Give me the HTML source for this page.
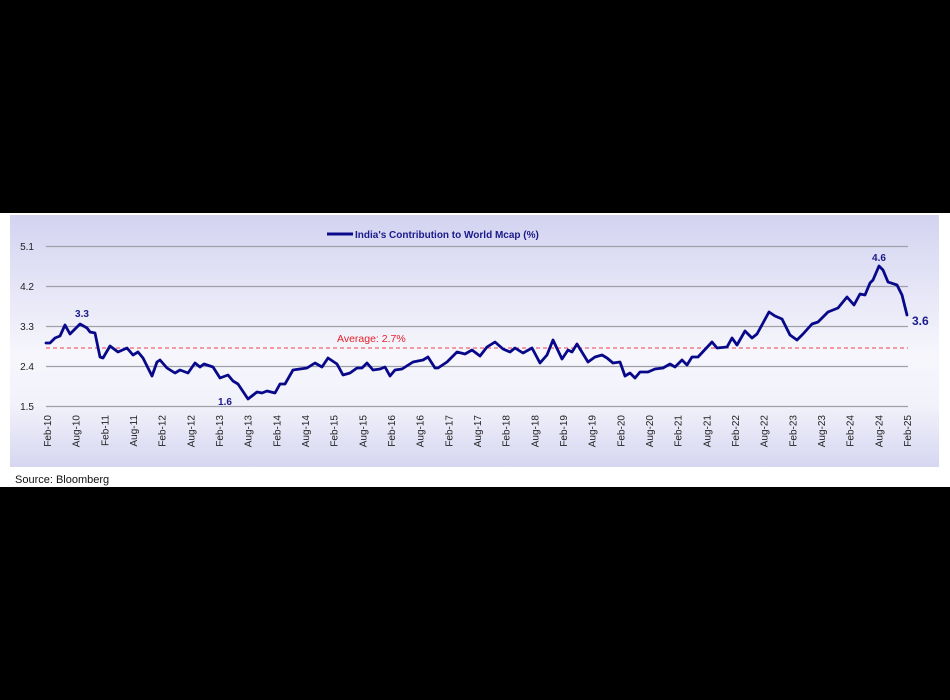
<!DOCTYPE html>
<html><head><meta charset="utf-8"><style>
html,body{margin:0;padding:0;background:#000;width:950px;height:700px;overflow:hidden}
svg{display:block}
text{font-family:"Liberation Sans",sans-serif}
</style></head><body>
<svg width="950" height="700" viewBox="0 0 950 700">
<defs>
<linearGradient id="bg" x1="0" y1="0" x2="0" y2="1">
<stop offset="0" stop-color="#d3d3f1"/>
<stop offset="0.55" stop-color="#f6f6fc"/>
<stop offset="0.75" stop-color="#f2f2fb"/>
<stop offset="1" stop-color="#d6d6f1"/>
</linearGradient>
</defs>
<rect x="0" y="213" width="950" height="274" fill="#fff"/>
<rect x="10" y="215" width="929" height="252" fill="url(#bg)"/>
<g stroke="#a0a0a8" stroke-width="1.2">
<line x1="46" y1="246.5" x2="908" y2="246.5"/>
<line x1="46" y1="286.5" x2="908" y2="286.5"/>
<line x1="46" y1="326.5" x2="908" y2="326.5"/>
<line x1="46" y1="366.5" x2="908" y2="366.5"/>
<line x1="46" y1="406.5" x2="908" y2="406.5"/>
</g>
<g font-size="10" fill="#222" text-anchor="end">
<text x="34" y="250">5.1</text><text x="34" y="290">4.2</text><text x="34" y="330">3.3</text><text x="34" y="370">2.4</text><text x="34" y="410">1.5</text>
</g>
<line x1="46" y1="348" x2="908" y2="348" stroke="#f04050" stroke-width="1" stroke-dasharray="4,3"/>
<text x="337" y="342" font-size="10.5" font-weight="500" fill="#e8202a">Average: 2.7%</text>
<line x1="327" y1="234" x2="353" y2="234" stroke="#0a0a8c" stroke-width="3"/>
<text x="355" y="238" font-size="10" font-weight="bold" fill="#1a1a8c">India's Contribution to World Mcap (%)</text>
<polyline fill="none" stroke="#08088a" stroke-width="2.8" stroke-linejoin="round" stroke-linecap="round" points="
46,343 50,343 55,338 60,336 65,325 70,334 80,324 87,328 90,332 95,333 100,357 103,358 110,346 118,352 127,348 133,355 138,352 143,358 152,376 157,362 160,360 167,368 175,373 180,370 188,373 195,363 200,367 204,364 213,367 220,378 228,375 233,381 238,384 248,399 257,392 262,393 267,391 275,393 280,384 285,384 293,370 300,369 307,368 315,363 322,367 328,358 337,364 343,375 350,373 357,368 362,368 367,363 373,370 380,369 385,367 390,376 395,370 402,369 413,362 423,360 428,357 435,368 438,368 447,362 457,352 465,354 472,350 480,356 487,347 495,342 503,349 510,352 515,348 523,353 532,348 540,363 547,355 553,340 562,359 568,350 572,352 577,344 588,362 595,357 602,355 607,358 613,363 620,362 625,376 630,373 635,378 640,372 648,372 655,369 663,368 670,364 675,367 682,360 687,365 692,357 698,357 712,342 717,348 727,347 732,338 737,345 745,331 752,338 757,334 769,312 775,316 782,319 790,335 797,340 803,334 812,324 818,322 828,312 838,308 847,297 854,305 860,294 865,295 870,283 873,280 879,266 883,270 888,282 897,285 902,295 907,315"/>
<g font-size="10" font-weight="bold" fill="#1a1a8c" text-anchor="middle">
<text x="82" y="317">3.3</text><text x="225" y="405">1.6</text><text x="879" y="261">4.6</text>
</g>
<text x="912" y="325" font-size="12" font-weight="bold" fill="#1a1a8c">3.6</text>
<g font-size="10" fill="#222" text-anchor="end">
<text transform="translate(51,415) rotate(-90)">Feb-10</text>
<text transform="translate(79.7,415) rotate(-90)">Aug-10</text>
<text transform="translate(108.3,415) rotate(-90)">Feb-11</text>
<text transform="translate(137,415) rotate(-90)">Aug-11</text>
<text transform="translate(165.7,415) rotate(-90)">Feb-12</text>
<text transform="translate(194.3,415) rotate(-90)">Aug-12</text>
<text transform="translate(223,415) rotate(-90)">Feb-13</text>
<text transform="translate(251.7,415) rotate(-90)">Aug-13</text>
<text transform="translate(280.3,415) rotate(-90)">Feb-14</text>
<text transform="translate(309,415) rotate(-90)">Aug-14</text>
<text transform="translate(337.7,415) rotate(-90)">Feb-15</text>
<text transform="translate(366.3,415) rotate(-90)">Aug-15</text>
<text transform="translate(395,415) rotate(-90)">Feb-16</text>
<text transform="translate(423.7,415) rotate(-90)">Aug-16</text>
<text transform="translate(452.3,415) rotate(-90)">Feb-17</text>
<text transform="translate(481,415) rotate(-90)">Aug-17</text>
<text transform="translate(509.7,415) rotate(-90)">Feb-18</text>
<text transform="translate(538.3,415) rotate(-90)">Aug-18</text>
<text transform="translate(567,415) rotate(-90)">Feb-19</text>
<text transform="translate(595.7,415) rotate(-90)">Aug-19</text>
<text transform="translate(624.3,415) rotate(-90)">Feb-20</text>
<text transform="translate(653,415) rotate(-90)">Aug-20</text>
<text transform="translate(681.7,415) rotate(-90)">Feb-21</text>
<text transform="translate(710.3,415) rotate(-90)">Aug-21</text>
<text transform="translate(739,415) rotate(-90)">Feb-22</text>
<text transform="translate(767.7,415) rotate(-90)">Aug-22</text>
<text transform="translate(796.3,415) rotate(-90)">Feb-23</text>
<text transform="translate(825,415) rotate(-90)">Aug-23</text>
<text transform="translate(853.7,415) rotate(-90)">Feb-24</text>
<text transform="translate(882.3,415) rotate(-90)">Aug-24</text>
<text transform="translate(911,415) rotate(-90)">Feb-25</text>
</g>
<text x="15" y="483" font-size="11" fill="#111">Source: Bloomberg</text>
</svg>
</body></html>
